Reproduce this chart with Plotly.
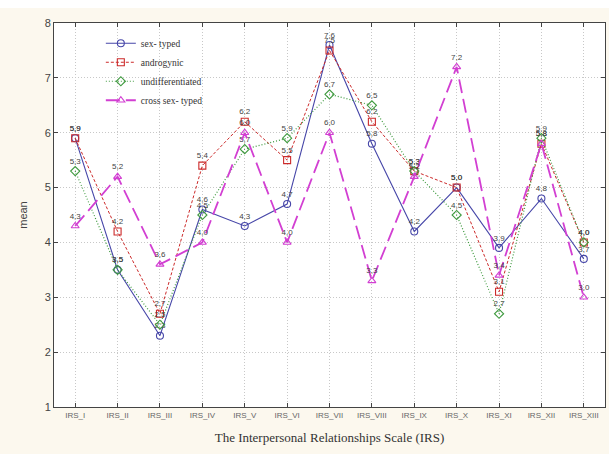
import plotly.graph_objects as go

categories = ["IRS_I", "IRS_II", "IRS_III", "IRS_IV", "IRS_V", "IRS_VI", "IRS_VII",
              "IRS_VIII", "IRS_IX", "IRS_X", "IRS_XI", "IRS_XII", "IRS_XIII"]
sex_typed = [5.9, 3.5, 2.3, 4.6, 4.3, 4.7, 7.6, 5.8, 4.2, 5.0, 3.9, 4.8, 3.7]
androgynic = [5.9, 4.2, 2.7, 5.4, 6.2, 5.5, 7.5, 6.2, 5.3, 5.0, 3.1, 5.8, 4.0]
undifferentiated = [5.3, 3.5, 2.5, 4.5, 5.7, 5.9, 6.7, 6.5, 5.3, 4.5, 2.7, 5.9, 4.0]
cross_sex_typed = [4.3, 5.2, 3.6, 4.0, 6.0, 4.0, 6.0, 3.3, 5.2, 7.2, 3.4, 5.8, 3.0]
y_ticks = [1, 2, 3, 4, 5, 6, 7, 8]

series = [
    ("sex- typed", sex_typed, "#4646a8", "solid", 1.1, "circle-open"),
    ("androgynic", androgynic, "#cc2a2a", "3px,2px", 1.0, "square-open"),
    ("undifferentiated", undifferentiated, "#3f9a3f", "1px,2px", 1.2, "diamond-open"),
    ("cross sex- typed", cross_sex_typed, "#d23fd2", "14px,6px", 1.8, "triangle-up-open"),
]

fig = go.Figure()
for name, vals, color, dash, width, symbol in series:
    fig.add_trace(go.Scatter(
        x=list(range(len(categories))), y=vals, name=name,
        mode="lines+markers+text",
        line=dict(color=color, dash=dash, width=width),
        marker=dict(symbol=symbol, size=7, color=color, line=dict(color=color, width=1.1)),
        text=[f"{v:.1f}".replace(".", ",") for v in vals],
        textposition="top center",
        textfont=dict(family="Liberation Sans, Arial", size=8, color="#444444"),
        cliponaxis=False,
    ))

fig.update_layout(
    width=609, height=454,
    margin=dict(l=54, r=4, t=23, b=47, autoexpand=False),
    paper_bgcolor="#fcf8ee",
    plot_bgcolor="#ffffff",
    showlegend=True,
    legend=dict(x=0.085, y=0.985, xanchor="left", yanchor="top",
                bgcolor="rgba(0,0,0,0)",
                font=dict(family="Liberation Serif, Times New Roman", size=9.5, color="#333333"),
                itemwidth=30, tracegroupgap=0),
    xaxis=dict(
        tickmode="array", tickvals=list(range(len(categories))), ticktext=categories,
        range=[-0.5, 12.5], automargin=False,
        showgrid=True, gridcolor="#c8c8c8", griddash="1px,2px", gridwidth=1,
        showline=True, linecolor="#444444", linewidth=1, mirror="ticks",
        ticks="inside", ticklen=4, tickcolor="#444444",
        tickfont=dict(family="Liberation Sans, Arial", size=8, color="#666666"),
        title=dict(text="The Interpersonal Relationships Scale (IRS)",
                   font=dict(family="Liberation Serif, Times New Roman", size=13, color="#333333"),
                   standoff=14),
        zeroline=False,
    ),
    yaxis=dict(
        tickmode="array", tickvals=y_ticks, ticktext=[str(v) for v in y_ticks],
        range=[1, 8], automargin=False,
        showgrid=True, gridcolor="#c8c8c8", griddash="1px,2px", gridwidth=1,
        showline=True, linecolor="#444444", linewidth=1, mirror="ticks",
        ticks="inside", ticklen=4, tickcolor="#444444",
        tickfont=dict(family="Liberation Sans, Arial", size=11, color="#444444"),
        title=dict(text="mean", font=dict(family="Liberation Sans, Arial", size=11, color="#444444"),
                   standoff=14),
        zeroline=False,
    ),
    shapes=[dict(type="rect", xref="paper", yref="paper", x0=-0.2, x1=1.1,
                 y0=1.039, y1=1.1, fillcolor="#ffffff", line=dict(width=0), layer="above")],
)

fig.write_html("out.html", config={"displayModeBar": False},
               post_script="document.body.style.margin='0';")
